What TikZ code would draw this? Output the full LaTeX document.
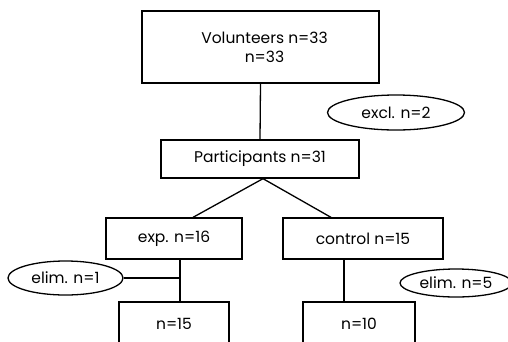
\documentclass[tikz,border=0pt]{standalone}
\usepackage{fontspec}
\setmainfont{Poppins}
\usetikzlibrary{shapes.geometric}

\begin{document}
\begin{tikzpicture}[x=1pt,y=-1pt,line width=1.3pt,
	font=\fontsize{15.5}{19}\selectfont,
	box/.style={shape=rectangle,draw=black,inner sep=0pt},
	oval/.style={shape=ellipse,draw=black,inner sep=0pt}]
	
	\clip (0,0) rectangle (508,341);
	
	\node[box,minimum width=237,minimum height=72,align=center] (vol) at (260.5,47) {\hspace*{8pt}Volunteers n=33\\\hspace*{8pt}n=33};
	\node[box,minimum width=198,minimum height=38] (part) at (260,159) {Participants n=31};
	\node[oval,minimum width=137,minimum height=35] (excl) at (396,112.5) {excl. n=2};
	\node[box,minimum width=136,minimum height=41] (exp) at (174,238.5) {exp. n=16};
	\node[box,minimum width=160,minimum height=41] (ctrl) at (363,238.5) {control n=15};
	\node[oval,minimum width=115,minimum height=34] (elimA) at (65.5,278) {elim. n=1};
	\node[oval,minimum width=112,minimum height=28] (elimB) at (456,283) {elim. n=5};
	\node[box,minimum width=110,minimum height=44] (resA) at (174,324) {n=15};
	\node[box,minimum width=112,minimum height=44] (resB) at (359,324) {n=10};
	
	\coordinate (jA) at (180,278);
	\coordinate (jB) at (344,259);
	
	\draw (vol.south) -- (part.north);
	\draw ([xshift=3pt]part.south) -- ([xshift=19pt]exp.north);
	\draw ([xshift=3pt]part.south) -- ([xshift=-32pt]ctrl.north);
	\draw (exp.south -| jA) -- (resA.north -| jA);
	\draw (elimA) -- (jA);
	\draw (ctrl.south -| jB) -- (resB.north -| jB);
	
\end{tikzpicture}
\end{document}
